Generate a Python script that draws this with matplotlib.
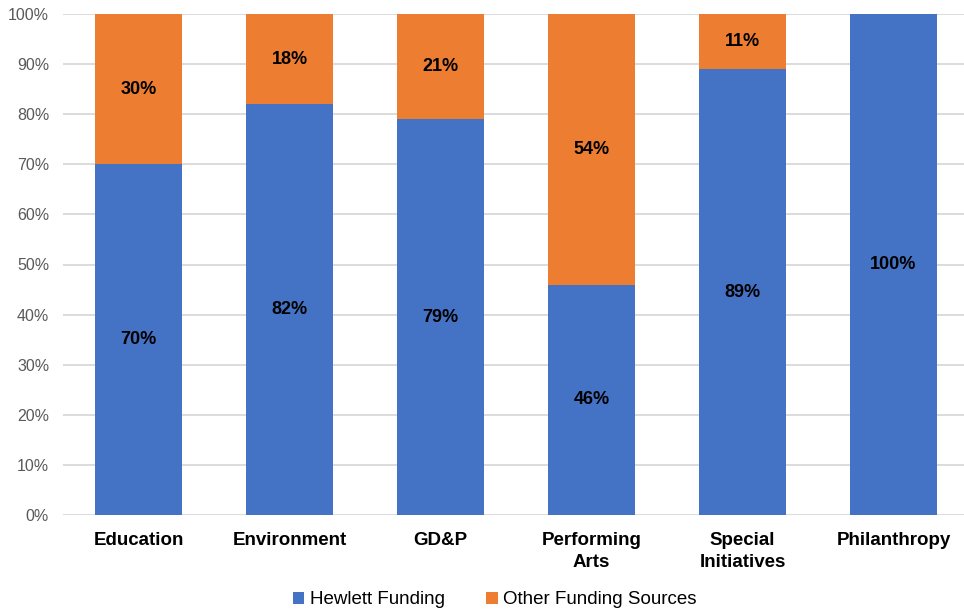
import numpy as np
import matplotlib
matplotlib.use("Agg")
import matplotlib.pyplot as plt
from matplotlib.ticker import PercentFormatter

plt.rcParams['font.family'] = ['Liberation Sans', 'DejaVu Sans']

# Share of program budgets by funding source (%)
programs = ['Education', 'Environment', 'GD&P', 'Performing\nArts',
            'Special\nInitiatives', 'Philanthropy']
hewlett = [70, 82, 79, 46, 89, 100]
other = [30, 18, 21, 54, 11, 0]

BLUE = '#4472C4'
ORANGE = '#ED7D31'

fig = plt.figure(figsize=(9.64, 6.13), dpi=100)
ax = fig.add_axes([63 / 964, 1 - 515 / 613, 1 - 63 / 964, (515 - 14) / 613])

x = np.arange(len(programs))
width = 0.575
b1 = ax.bar(x, hewlett, width, color=BLUE, label='Hewlett Funding', zorder=2)
b2 = ax.bar(x, other, width, bottom=hewlett, color=ORANGE,
            label='Other Funding Sources', zorder=2)

# segment labels in the middle of each piece
for xi, h, o in zip(x, hewlett, other):
    ax.text(xi, h / 2, f'{h}%', ha='center', va='center',
            fontsize=13, fontweight='bold', color='black', zorder=3)
    if o > 0:
        ax.text(xi, h + o / 2, f'{o}%', ha='center', va='center',
                fontsize=13, fontweight='bold', color='black', zorder=3)

ax.set_ylim(0, 100)
ax.set_xlim(-0.5, -0.5 + (964 - 63) / 151)
ax.set_yticks(np.arange(0, 101, 10))
ax.yaxis.set_major_formatter(PercentFormatter(decimals=0))
ax.set_xticks(x)
ax.set_xticklabels(programs, fontsize=13.5, fontweight='bold', color='black',
                   linespacing=1.4)
ax.tick_params(axis='x', length=0, pad=12)
ax.tick_params(axis='y', length=0, pad=10, labelsize=11.5, labelcolor='#595959')

ax.grid(axis='y', color='#D9D9D9', linewidth=1.3, zorder=0)
ax.set_axisbelow(True)
for s in ax.spines.values():
    s.set_visible(False)

fig.legend(handles=[b1, b2], loc='center', bbox_to_anchor=(495 / 964, 1 - 600 / 613),
           ncol=2, frameon=False, fontsize=13.5, handlelength=0.6,
           handleheight=0.6, handletextpad=0.3, columnspacing=2.2)

fig.savefig('out.png', dpi=100)
